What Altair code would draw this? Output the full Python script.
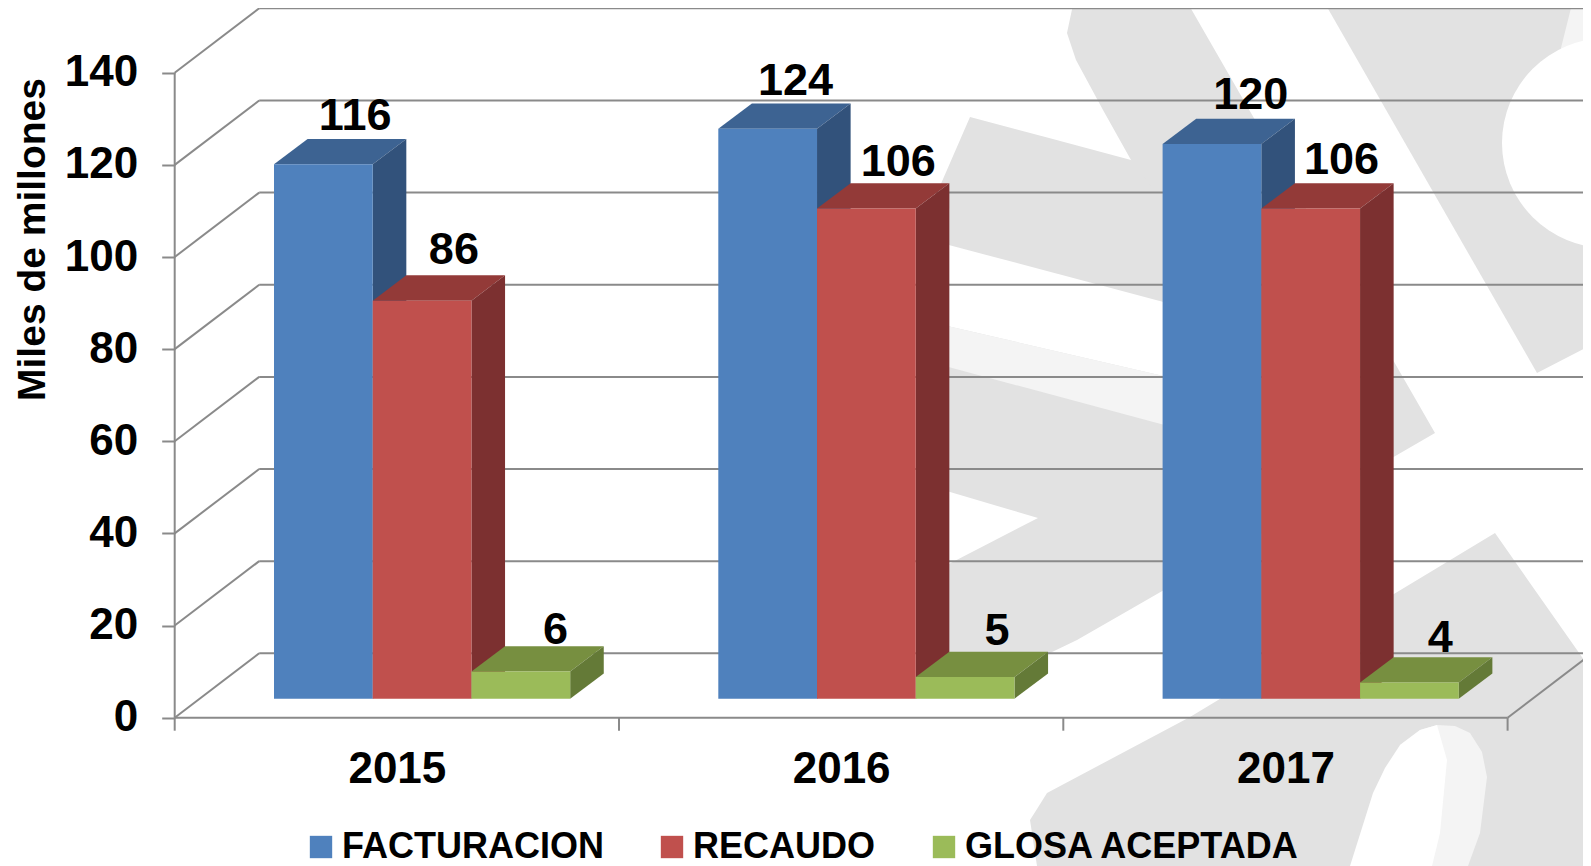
import altair as alt
import pandas as pd

years = ["2015", "2016", "2017"]
series = ["FACTURACION", "RECAUDO", "GLOSA ACEPTADA"]
facturacion = [116, 123.7, 120.4]
recaudo = [86.4, 106.4, 106.4]
glosa = [5.9, 4.7, 3.5]
values = [facturacion, recaudo, glosa]
y_ticks = [0, 20, 40, 60, 80, 100, 120, 140]
front_colors = ["#4F81BD", "#C0504D", "#9BBB59"]
top_colors = ["#3D6392", "#933A38", "#778F40"]
side_colors = ["#32527B", "#7C3030", "#647A37"]

FONT = "Liberation Sans"
GRID = "#8A8A8A"
W, H = 1575, 858
PX_CAT = 444.3
PX_UNIT = 4.607
AX_X, AX_Y = 174.7, 717.7


def cx(px):
    return (px - AX_X) / PX_CAT


def vy(py):
    return (AX_Y - py) / PX_UNIT


xs = alt.Scale(domain=[cx(8), cx(8 + W)], nice=False, zero=False)
ys = alt.Scale(domain=[vy(8 + H), vy(8)], nice=False, zero=False)
axis_common = dict(
    labelFont=FONT, labelFontWeight="bold", labelFontSize=44, labelColor="black",
    domain=False, grid=False, zindex=1, tickColor=GRID, tickWidth=2,
)
x_axis = alt.Axis(
    orient="bottom", offset=-(8 + H - AX_Y), values=[0.5, 1.5, 2.5], ticks=False,
    labelExpr="['2015','2016','2017'][floor(datum.value)]", labelPadding=30, **axis_common,
)
y_axis = alt.Axis(
    orient="left", offset=-(AX_X - 8), values=y_ticks, tickSize=13, labelPadding=24,
    titleFont=FONT, titleFontWeight="bold", titleFontSize=39, titleColor="black",
    titleAnchor="middle", titleAlign="center", titleX=44 - AX_X, titleY=239 - 8,
    titleBaseline="alphabetic", titleAngle=270, **axis_common,
)
X = alt.X("x:Q", scale=xs, axis=x_axis, title=None)
Y = alt.Y("y:Q", scale=ys, axis=y_axis, title="Miles de millones", stack=None)

# faint watermark behind the chart
GRAY, LIGHT, WHITE = "#E2E2E2", "#F4F4F4", "#FFFFFF"
watermark = [
    (GRAY, [(1067, 33), (1074, 0), (1186, 0), (1435, 433), (1164, 590), (1131, 160), (1103, 110), (1076, 60)]),
    (GRAY, [(930, 209), (970, 117), (1131, 160), (1200, 250), (1200, 569), (1164, 590), (1077, 640), (1050, 653), (1015, 670), (930, 670)]),
    (WHITE, [(930, 240), (1250, 325), (1250, 396), (930, 322)]),
    (LIGHT, [(930, 322), (1250, 396), (1250, 448), (930, 362)]),
    (WHITE, [(945, 490.5), (1038, 518), (945, 566)]),
    (GRAY, [(1323, 0), (1591, 0), (1591, 345), (1537, 373)]),
    (LIGHT, [(1560, 52), (1573, 0), (1591, 0), (1591, 60)]),
    (GRAY, [(1030, 820), (1047, 793), (1190, 717), (1495, 533), (1591, 670), (1591, 866), (1037, 866)]),
    (LIGHT, [(1400, 745), (1420, 730), (1437, 725), (1455, 726), (1470, 733), (1482, 752), (1487, 777), (1480, 833), (1468, 866), (1400, 866)]),
    (WHITE, [(1350, 866), (1373, 793), (1385, 768), (1400, 745), (1420, 730), (1437, 725), (1447, 760), (1440, 833), (1432, 866)]),
]


def slices(poly):
    rows = []
    n = len(poly)
    for x in sorted({p[0] for p in poly}):
        hits = []
        for i in range(n):
            (x1, y1), (x2, y2) = poly[i], poly[(i + 1) % n]
            if min(x1, x2) <= x <= max(x1, x2):
                if x1 == x2:
                    hits += [y1, y2]
                else:
                    hits.append(y1 + (y2 - y1) * (x - x1) / (x2 - x1))
        rows.append({"x": cx(x), "y": vy(min(hits)), "y2": vy(max(hits))})
    return pd.DataFrame(rows)


layers = []
for color, poly in watermark:
    layers.append(
        alt.Chart(slices(poly)).mark_area(color=color, clip=True, strokeWidth=0).encode(x=X, y=Y, y2="y2:Q")
    )

# white hole of the watermark's ring
layers.append(
    alt.Chart(pd.DataFrame({"x": [cx(1607)], "y": [vy(143)]}))
    .mark_point(filled=True, color=WHITE, opacity=1, size=44100, clip=True, strokeWidth=0, shape="circle")
    .encode(x=X, y=Y)
)

# 3-D walls and floor
WALL_X, WALL_Y = 84.5 / PX_CAT, 64.4 / PX_UNIT
x_end = cx(8 + W)
n_cat = len(years)
grid_rows = []
for v in y_ticks:
    grid_rows.append({"x": 0, "x2": WALL_X, "y": v, "y2": v + WALL_Y})
    grid_rows.append({"x": WALL_X, "x2": x_end, "y": v + WALL_Y, "y2": v + WALL_Y})
grid_rows.append({"x": 0, "x2": 0, "y": 0, "y2": y_ticks[-1]})
grid_rows.append({"x": 0, "x2": n_cat, "y": 0, "y2": 0})
grid_rows.append({"x": n_cat, "x2": n_cat + WALL_X, "y": 0, "y2": WALL_Y})
for i in range(n_cat + 1):
    grid_rows.append({"x": i, "x2": i, "y": 0, "y2": -13 / PX_UNIT})

grid_layer = (
    alt.Chart(pd.DataFrame(grid_rows))
    .mark_rule(color=GRID, strokeWidth=2)
    .encode(x=X, x2="x2:Q", y=Y, y2="y2:Q")
)
layers.append(grid_layer)

# bars: top, side, then front face for each series
BASE = (AX_Y - 698.7) / PX_UNIT
X0, BAR_W = 0.2235, 0.2222
DX, DY = 33.6 / PX_CAT, 25.3 / PX_UNIT
# small per-label shifts in pixels (right, down), series by year
label_shift_x = [[0, -4, 7], [0, 0, -1], [3, 0, -1]]
label_shift_y = [[0, 0, -1], [-2, 2, 0], [7, 2, 4]]
label_rows = []
for s, name in enumerate(series):
    top_rows, side_rows, front_rows = [], [], []
    for c, year in enumerate(years):
        v = values[s][c]
        x0 = c + X0 + s * BAR_W
        x1 = x0 + BAR_W
        t = BASE + v
        top_rows += [
            {"g": year, "x": x0, "y": t, "y2": t},
            {"g": year, "x": x0 + DX, "y": t + DY, "y2": t},
            {"g": year, "x": x1, "y": t + DY, "y2": t},
            {"g": year, "x": x1 + DX, "y": t + DY, "y2": t + DY},
        ]
        side_rows += [
            {"g": year, "x": x1, "y": t, "y2": BASE},
            {"g": year, "x": x1 + DX, "y": t + DY, "y2": BASE + DY},
        ]
        front_rows.append({"series": name, "x": x0, "x2": x1, "y": t, "y2": BASE})
        label_rows.append({
            "x": (x0 + x1 + DX) / 2 + label_shift_x[s][c] / PX_CAT,
            "y": t + DY - label_shift_y[s][c] / PX_UNIT,
            "value": v,
        })
    layers.append(
        alt.Chart(pd.DataFrame(top_rows)).mark_area(color=top_colors[s], strokeWidth=0).encode(x=X, y=Y, y2="y2:Q", detail="g:N")
    )
    layers.append(
        alt.Chart(pd.DataFrame(side_rows)).mark_area(color=side_colors[s], strokeWidth=0).encode(x=X, y=Y, y2="y2:Q", detail="g:N")
    )
    layers.append(
        alt.Chart(pd.DataFrame(front_rows)).mark_rect().encode(
            x=X, x2="x2:Q", y=Y, y2="y2:Q",
            color=alt.Color(
                "series:N",
                scale=alt.Scale(domain=series, range=front_colors),
                legend=alt.Legend(
                    orient="none", legendX=295, legendY=821, direction="horizontal", title=None,
                    symbolType="square", symbolSize=500, symbolStrokeWidth=0, symbolOpacity=1,
                    labelFont=FONT, labelFontWeight="bold", labelFontSize=36, labelColor="black",
                    labelOffset=3, labelLimit=500, columnPadding=50, columns=3, gridAlign="none",
                ),
            ),
        )
    )

layers.append(
    alt.Chart(pd.DataFrame(label_rows))
    .mark_text(font=FONT, fontWeight="bold", fontSize=45, color="black", baseline="alphabetic", align="center", dx=15, dy=-9)
    .encode(x=X, y=Y, text=alt.Text("value:Q", format=".0f"))
)

chart = (
    alt.layer(*layers)
    .properties(width=W, height=H, padding=0, autosize=alt.AutoSizeParams(type="none"), background="white")
    .configure_view(stroke=None)
)
chart.save("out.html", embed_options={"renderer": "svg", "actions": False})
